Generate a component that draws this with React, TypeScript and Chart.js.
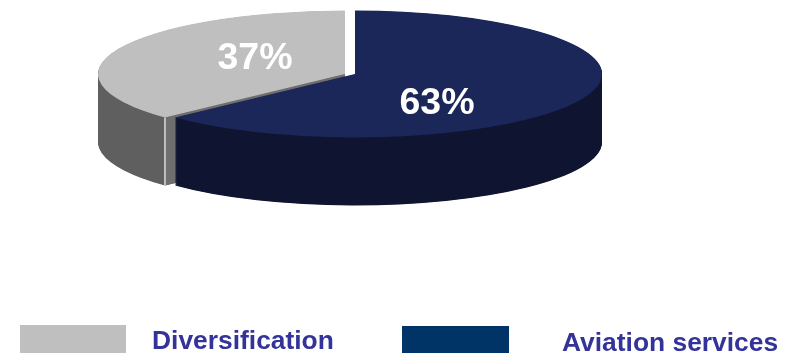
import React, { useEffect, useRef } from "react";
import { Chart, registerables } from "chart.js";

Chart.register(...registerables);

const categories = ["Aviation services", "Diversification"];
const shares = [63, 37];
const sliceColors = ["#1b2659", "#bfbfbf"];
const wallColors = ["#0f1430", "#5f5f5f"];
const legendColors = ["#003366", "#bfbfbf"];
const legendOrder = [1, 0];

const CENTER_X = 355;
const CENTER_Y = 74;
const RADIUS_X = 247;
const RADIUS_Y = 63.5;
const DEPTH = 68;
const GREY_PULL_X = -10;
const FONT = '"Liberation Sans", Arial, sans-serif';

// Draws the pie lying flat, with an extruded rim, by stamping the library's arcs.
const tiltedPie = {
  id: "tiltedPie",
  beforeDatasetsDraw(chart: any) {
    const ctx = chart.ctx;
    const arcs = chart.getDatasetMeta(0).data;
    const radius = arcs[0].outerRadius;
    const sx = RADIUS_X / radius;
    const sy = RADIUS_Y / radius;
    const pull = [0, GREY_PULL_X];

    const place = (target: CanvasRenderingContext2D, index: number, drop: number) => {
      target.setTransform(sx, 0, 0, sy, CENTER_X + pull[index] - arcs[0].x * sx, CENTER_Y + drop - arcs[0].y * sy);
    };

    // Each wall is stamped on its own layer and flooded with one flat colour,
    // so the overlapping edges leave no streaks behind.
    const stampWall = (index: number) => {
      const layer = document.createElement("canvas");
      layer.width = chart.width;
      layer.height = chart.height;
      const layerCtx = layer.getContext("2d") as CanvasRenderingContext2D;
      const arc = arcs[index];
      for (let d = DEPTH; d > 0; d -= 0.5) {
        place(layerCtx, index, d);
        arc.draw(layerCtx);
      }
      layerCtx.setTransform(1, 0, 0, 1, 0, 0);
      layerCtx.globalCompositeOperation = "source-atop";
      layerCtx.fillStyle = wallColors[index];
      layerCtx.fillRect(0, 0, layer.width, layer.height);
      ctx.setTransform(1, 0, 0, 1, 0, 0);
      ctx.drawImage(layer, 0, 0);
    };

    ctx.save();
    stampWall(1);

    // Lit cut face of the pulled-out slice, seen through the gap.
    const grey = arcs[1];
    const rimX = grey.x + Math.cos(grey.startAngle) * radius;
    const rimY = grey.y + Math.sin(grey.startAngle) * radius;
    place(ctx, 1, 0);
    ctx.fillStyle = "#6e6e6e";
    ctx.beginPath();
    ctx.moveTo(rimX, rimY);
    ctx.lineTo(grey.x, grey.y);
    ctx.lineTo(grey.x, grey.y + DEPTH / sy);
    ctx.lineTo(rimX, rimY + DEPTH / sy);
    ctx.closePath();
    ctx.fill();
    ctx.fillStyle = "#dcdcdc";
    ctx.fillRect(rimX - 0.75 / sx, rimY, 1.5 / sx, DEPTH / sy);

    stampWall(0);
    place(ctx, 1, 0);
    arcs[1].draw(ctx);
    place(ctx, 0, 0);
    arcs[0].draw(ctx);
    ctx.restore();
    return false;
  },
  afterDraw(chart: any) {
    const ctx = chart.ctx;
    ctx.save();
    ctx.textBaseline = "alphabetic";

    ctx.fillStyle = "#ffffff";
    ctx.textAlign = "center";
    ctx.font = `bold 37.5px ${FONT}`;
    ctx.fillText(`${shares[1]}%`, 255, 69);
    ctx.fillText(`${shares[0]}%`, 437, 114);

    ctx.textAlign = "left";
    ctx.font = `bold 26.4px ${FONT}`;
    const boxes = [
      { x: 20, y: 325, w: 106, h: 28, tx: 152, ty: 349 },
      { x: 402, y: 326, w: 107, h: 27, tx: 562, ty: 351 },
    ];
    legendOrder.forEach((index, i) => {
      const b = boxes[i];
      ctx.fillStyle = legendColors[index];
      ctx.fillRect(b.x, b.y, b.w, b.h);
      ctx.fillStyle = "#333399";
      ctx.fillText(categories[index], b.tx, b.ty);
    });
    ctx.restore();
  },
};

export default function App() {
  const canvasRef = useRef<HTMLCanvasElement | null>(null);

  useEffect(() => {
    const chart = new Chart(canvasRef.current as HTMLCanvasElement, {
      type: "pie",
      data: {
        labels: categories,
        datasets: [
          {
            data: shares,
            backgroundColor: sliceColors,
            borderWidth: 0,
          },
        ],
      },
      options: {
        responsive: false,
        animation: false,
        events: [],
        plugins: { legend: { display: false }, tooltip: { enabled: false } },
      },
      plugins: [tiltedPie],
    } as any);
    return () => chart.destroy();
  }, []);

  return (
    <div style={{ position: "fixed", left: 0, top: 0, width: 789, height: 353, background: "#ffffff" }}>
      <canvas ref={canvasRef} width={789} height={353} style={{ display: "block" }} />
    </div>
  );
}
